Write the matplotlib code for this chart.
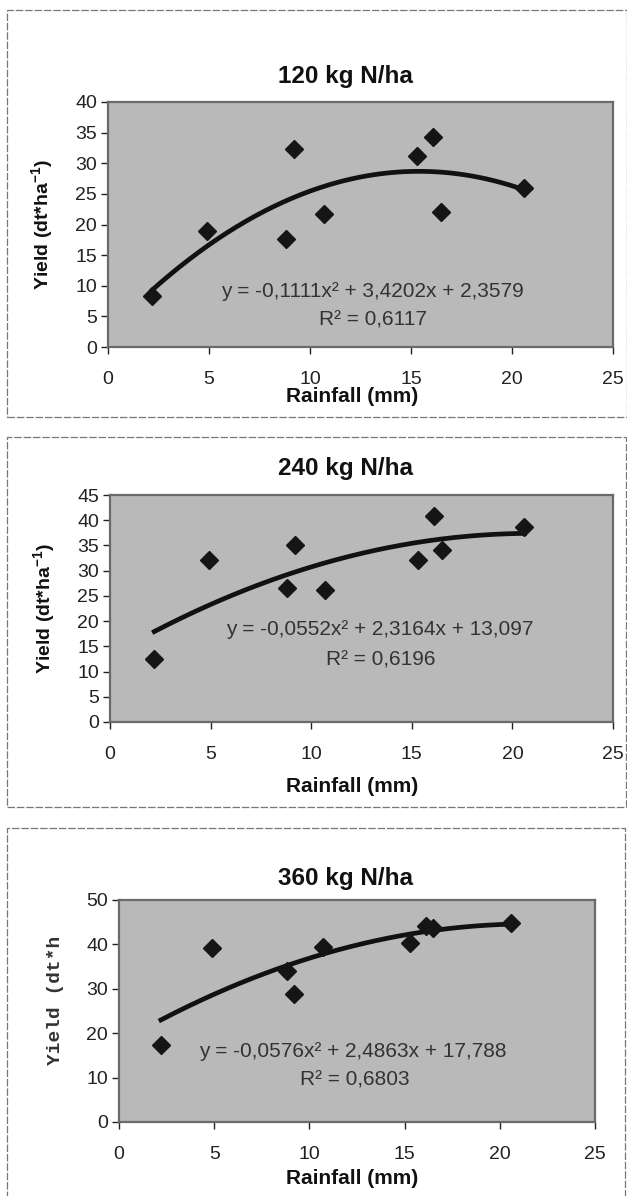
import numpy as np
import matplotlib.pyplot as plt
from matplotlib.patches import Rectangle

plt.rcParams['font.family'] = ['Liberation Sans', 'DejaVu Sans']
plt.rcParams['mathtext.fontset'] = 'custom'
plt.rcParams['mathtext.rm'] = 'Liberation Sans:bold'
plt.rcParams['mathtext.bf'] = 'Liberation Sans:bold'

# Data
rainfall = [2.2, 4.9, 8.8, 9.2, 10.7, 15.3, 16.1, 16.5, 20.6]
yield_120 = [8.4, 19.0, 17.7, 32.4, 21.7, 31.2, 34.3, 22.0, 26.0]
yield_240 = [12.5, 32.1, 26.5, 35.1, 26.1, 32.1, 40.9, 34.0, 38.7]
yield_360 = [17.3, 39.3, 34.0, 28.9, 39.4, 40.4, 44.2, 43.7, 44.8]

# printed trendline coefficients (a, b, c) and R²
coef_120 = [-0.1111, 3.4202, 2.3579]
coef_240 = [-0.0552, 2.3164, 13.097]
coef_360 = [-0.0576, 2.4863, 17.788]
r2_values = [0.6117, 0.6196, 0.6803]

titles = ['120 kg N/ha', '240 kg N/ha', '360 kg N/ha']
y_limits = [40, 45, 50]
y_steps = [5, 5, 10]
x_ticks = [0, 5, 10, 15, 20, 25]

W, H = 627, 1196
fig = plt.figure(figsize=(W / 100, H / 100), dpi=100)
fig.patch.set_facecolor('white')


def fx(px):
    return px / W


def fy(py):
    return 1 - py / H


def fmt(v, nd):
    return f'{abs(v):.{nd}f}'.replace('.', ',')


# pixel layout of each panel: box, plot area, label positions
panels = [
    dict(box=(7, 10, 627, 417), ax=(108, 102, 613, 347), title_y=77,
         xlabel_y=396, ylabel_x=43, eq=(13.1, 9.0), r2=(13.1, 4.4)),
    dict(box=(7, 437, 626, 807), ax=(110, 495, 613, 722), title_y=468,
         xlabel_y=787, ylabel_x=45, eq=(13.4, 18.3), r2=(13.45, 12.3)),
    dict(box=(7, 828, 625, 1200), ax=(119, 900, 595, 1122), title_y=878,
         xlabel_y=1178, ylabel_x=55, eq=(12.3, 15.8), r2=(12.4, 9.4)),
]
series = [yield_120, yield_240, yield_360]
coefs = [coef_120, coef_240, coef_360]

for i, p in enumerate(panels):
    bx0, by0, bx1, by1 = p['box']
    fig.add_artist(Rectangle((fx(bx0), fy(by1)), fx(bx1 - bx0), (by1 - by0) / H,
                             transform=fig.transFigure, fill=False,
                             edgecolor='#777777', lw=0.9, linestyle=(0, (6, 1.5))))

    x0, y0, x1, y1 = p['ax']
    ax = fig.add_axes([fx(x0), fy(y1), fx(x1 - x0), (y1 - y0) / H])
    ax.set_facecolor('#b9b9b9')
    for s in ax.spines.values():
        s.set_color('#6a6a6a')
        s.set_linewidth(1.6)

    a, b, c = coefs[i]
    xs = np.linspace(min(rainfall), max(rainfall), 200)
    ax.plot(xs, a * xs**2 + b * xs + c, color='#111111', lw=3.4, zorder=3)
    ax.plot(rainfall, series[i], linestyle='none', marker='D', markersize=9.5,
            color='#151515', zorder=4)

    ax.set_xlim(0, 25)
    ax.set_ylim(0, y_limits[i])
    ax.set_xticks(x_ticks)
    ax.set_yticks(np.arange(0, y_limits[i] + 1, y_steps[i]))
    ax.tick_params(axis='both', labelsize=14, colors='#222222', length=5,
                   width=1, direction='out')
    ax.tick_params(axis='x', pad=12)
    ax.tick_params(axis='y', pad=3)

    eq = (f'y = -{fmt(a, 4)}x\u00b2 + {fmt(b, 4)}x + '
          f'{fmt(c, 4) if i == 0 else fmt(c, 3)}')
    ax.text(p['eq'][0], p['eq'][1], eq, ha='center', va='center',
            fontsize=15, color='#333333', zorder=5)
    ax.text(p['r2'][0], p['r2'][1], f'R\u00b2 = {fmt(r2_values[i], 4)}',
            ha='center', va='center', fontsize=15, color='#333333', zorder=5)

    fig.text(fx(345), fy(p['title_y']), titles[i], ha='center', va='center',
             fontsize=17.5, fontweight='bold', color='#111111')
    fig.text(fx(352), fy(p['xlabel_y']), 'Rainfall (mm)', ha='center',
             va='center', fontsize=15, fontweight='bold', color='#111111')
    yc = fy((y0 + y1) / 2)
    if i < 2:
        fig.text(fx(p['ylabel_x']), yc, r'Yield (dt*ha$^{-1}$)', rotation=90,
                 ha='center', va='center', fontsize=14, fontweight='bold',
                 color='#111111')
    else:
        fig.text(fx(p['ylabel_x']), fy(1000), 'Yield (dt*h', rotation=90,
                 ha='center', va='center', fontsize=14, fontweight='bold',
                 family=['Liberation Mono', 'DejaVu Sans Mono'], color='#333333')

fig.savefig('out.png', dpi=100)
